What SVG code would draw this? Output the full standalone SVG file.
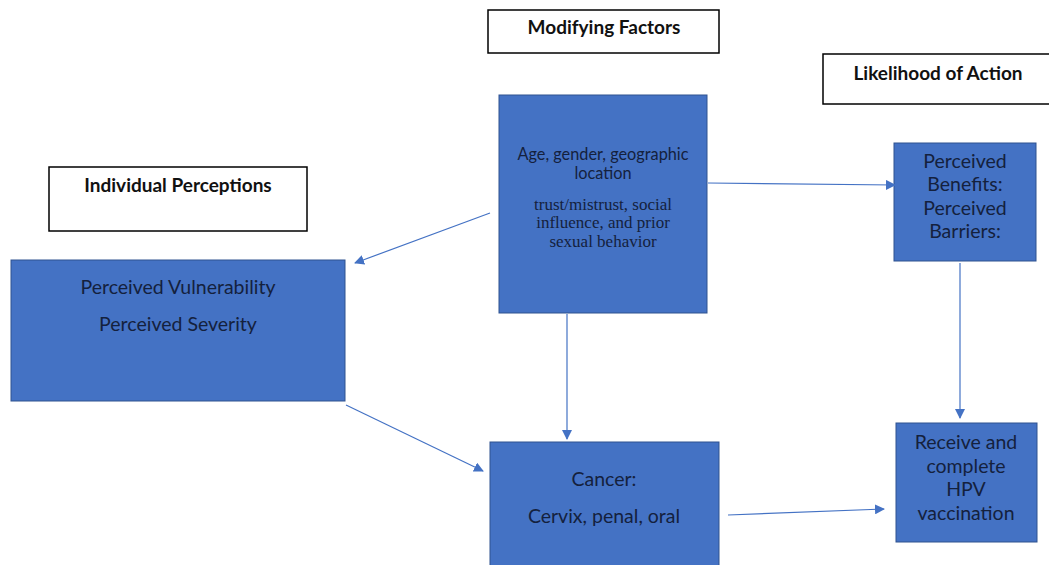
<svg xmlns="http://www.w3.org/2000/svg" width="1049" height="565" viewBox="0 0 1049 565">
<style>
.title{fill:#fff;stroke:#000;stroke-width:1.5}
.node{fill:#4472C4;stroke:#2F528F;stroke-width:1}
.tt{font-family:Lato,"Open Sans",sans-serif;font-weight:bold;font-size:19px;fill:#111;text-anchor:middle}
.nt{font-family:Lato,"Open Sans",sans-serif;font-size:19.5px;fill:#14213d;text-anchor:middle}
.st{font-family:"Liberation Serif",serif;font-size:17px;fill:#14213d;text-anchor:middle}
.sm{font-family:Lato,"Open Sans",sans-serif;font-size:16.3px;fill:#14213d;text-anchor:middle}
.edge{stroke:#4472C4;stroke-width:1.2;fill:none;marker-end:url(#ah)}
</style>
<defs>
<marker id="ah" viewBox="0 0 10 10" refX="9" refY="5" markerWidth="10" markerHeight="10" markerUnits="userSpaceOnUse" orient="auto">
<path d="M0,0 L10,5 L0,10 z" fill="#4472C4"/>
</marker>
</defs>
<rect width="1049" height="565" fill="#fff"/>
<g id="modifying-factors">
<rect class="title" x="488" y="10" width="231" height="43"/>
<text class="tt" x="604" y="34">Modifying Factors</text>
</g>
<g id="likelihood-of-action">
<rect class="title" x="823" y="54" width="230" height="50"/>
<text class="tt" x="938" y="80">Likelihood of Action</text>
</g>
<g id="individual-perceptions">
<rect class="title" x="49" y="167" width="258" height="64"/>
<text class="tt" x="178" y="192">Individual Perceptions</text>
</g>
<g id="factors">
<rect class="node" x="499" y="95" width="208" height="218"/>
<text class="sm" x="603" y="160">Age, gender, geographic</text>
<text class="sm" x="603" y="179">location</text>
<text class="st" x="603" y="210">trust/mistrust, social</text>
<text class="st" x="603" y="228">influence, and prior</text>
<text class="st" x="603" y="247">sexual behavior</text>
</g>
<g id="perceptions">
<rect class="node" x="11" y="260" width="334" height="141"/>
<text class="nt" x="178" y="294">Perceived Vulnerability</text>
<text class="nt" x="178" y="331">Perceived Severity</text>
</g>
<g id="cancer">
<rect class="node" x="490" y="442" width="229" height="130"/>
<text class="nt" x="604" y="486">Cancer:</text>
<text class="nt" x="604" y="523">Cervix, penal, oral</text>
</g>
<g id="benefits">
<rect class="node" x="894" y="143" width="142" height="118"/>
<text class="nt" x="965" y="168">Perceived</text>
<text class="nt" x="965" y="191">Benefits:</text>
<text class="nt" x="965" y="215">Perceived</text>
<text class="nt" x="965" y="238">Barriers:</text>
</g>
<g id="vaccination">
<rect class="node" x="896" y="423" width="141" height="119"/>
<text class="nt" x="966" y="449">Receive and</text>
<text class="nt" x="966" y="473">complete</text>
<text class="nt" x="966" y="496">HPV</text>
<text class="nt" x="966" y="520">vaccination</text>
</g>
<g id="connectors">
<line class="edge" x1="490" y1="213" x2="355" y2="263"/>
<line class="edge" x1="708" y1="183" x2="895" y2="185"/>
<line class="edge" x1="567" y1="314" x2="567" y2="439"/>
<line class="edge" x1="346" y1="405" x2="483" y2="471"/>
<line class="edge" x1="728" y1="515" x2="884" y2="509"/>
<line class="edge" x1="960" y1="263" x2="960" y2="418"/>
</g>
</svg>
